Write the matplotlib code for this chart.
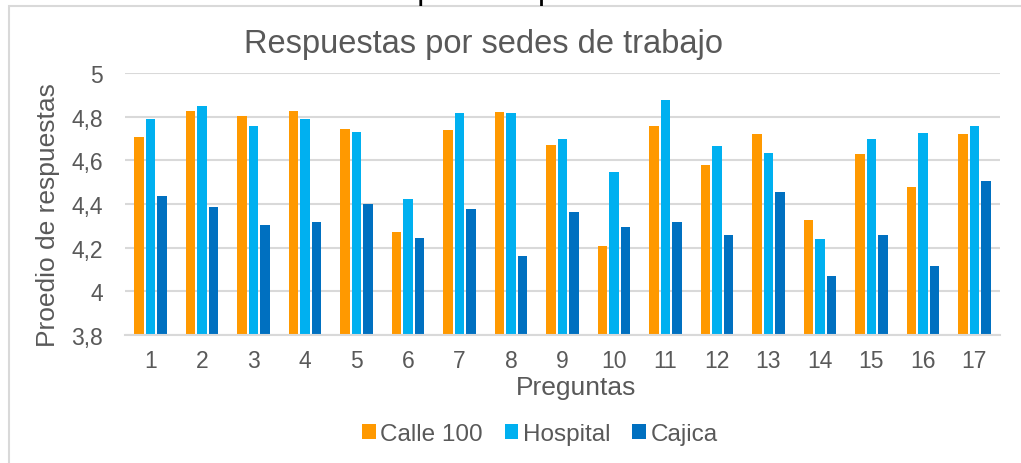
import numpy as np
import matplotlib
matplotlib.use("Agg")
import matplotlib.pyplot as plt
from matplotlib.ticker import FuncFormatter
from matplotlib.patches import Rectangle

# Promedio por pregunta en cada sede
preguntas = [str(i) for i in range(1, 18)]
calle100 = [4.705, 4.827, 4.804, 4.827, 4.743, 4.270, 4.737, 4.821, 4.672,
            4.206, 4.759, 4.580, 4.719, 4.325, 4.628, 4.479, 4.719]
hospital = [4.788, 4.847, 4.757, 4.788, 4.728, 4.424, 4.818, 4.818, 4.696,
            4.545, 4.878, 4.666, 4.635, 4.241, 4.696, 4.727, 4.756]
cajica = [4.435, 4.388, 4.305, 4.316, 4.398, 4.246, 4.376, 4.163, 4.363,
          4.293, 4.316, 4.258, 4.456, 4.070, 4.258, 4.117, 4.505]
sedes = ["Calle 100", "Hospital", "Cajica"]
y_ticks = [3.8, 4.0, 4.2, 4.4, 4.6, 4.8, 5.0]

colores = ["#FF9900", "#00B0F0", "#0070C0"]
gris_texto = "#595959"
gris_linea = "#D9D9D9"

plt.rcParams["font.family"] = ["Liberation Sans", "DejaVu Sans"]

fig = plt.figure(figsize=(10.21, 4.64), dpi=100)
ax = fig.add_axes([125 / 1021, 1 - 336 / 464, 875 / 1021, 262 / 464])

# leyenda del documento (cortada arriba) y marco del gráfico
fig.text(35 / 1021, 1 + 1 / 464, "Gráfica 3. Promedio de respuestas por sedes",
         fontsize=23, color="black", ha="left", va="baseline")
fig.patches.append(Rectangle((8.5 / 1021, -0.1), 2, 1.1 - 7.5 / 464,
                             transform=fig.transFigure, fill=False,
                             edgecolor=gris_linea, lw=1.5))

x = np.arange(len(preguntas))
paso = 0.223
for k, (serie, nombre) in enumerate(zip([calle100, hospital, cajica], sedes)):
    ax.bar(x + (k - 1) * paso, serie, width=0.185, color=colores[k],
           label=nombre, zorder=3)

ax.set_ylim(3.8, 5.0)
ax.set_xlim(-0.5, len(preguntas) - 0.5)
ax.set_yticks(y_ticks)
ax.yaxis.set_major_formatter(FuncFormatter(lambda v, p: f"{v:g}".replace(".", ",")))
ax.set_xticks(x)
ax.set_xticklabels(preguntas)
ax.tick_params(axis="both", length=0, labelsize=16.5, colors=gris_texto)
ax.tick_params(axis="y", pad=16)
ax.tick_params(axis="x", pad=10)

ax.grid(axis="y", color=gris_linea, lw=1.5, zorder=0)
for lado in ["top", "right", "left"]:
    ax.spines[lado].set_visible(False)
ax.spines["bottom"].set_color(gris_linea)
ax.spines["bottom"].set_linewidth(1.5)
ax.spines["bottom"].set_zorder(4)

ax.text(0.41, (336 - 53) / 262, "Respuestas por sedes de trabajo",
        transform=ax.transAxes, ha="center", va="baseline",
        fontsize=23.5, color=gris_texto)

ax.set_xlabel("Preguntas", fontsize=19, color=gris_texto)
ax.xaxis.label.set_va("center")
ax.xaxis.set_label_coords(0.515, (336 - 388) / 262)
ax.set_ylabel("Proedio de respuestas", fontsize=19, color=gris_texto)
ax.yaxis.label.set_va("center")
ax.yaxis.set_label_coords((48 - 125) / 875, (336 - 215) / 262)

leg = fig.legend(loc="center", bbox_to_anchor=(540 / 1021, 1 - 435 / 464),
                 ncol=3, frameon=False, fontsize=17.5, handlelength=0.55,
                 handleheight=0.55, handletextpad=0.2, columnspacing=0.9)
for t in leg.get_texts():
    t.set_color(gris_texto)

fig.savefig("out.png", dpi=100)
